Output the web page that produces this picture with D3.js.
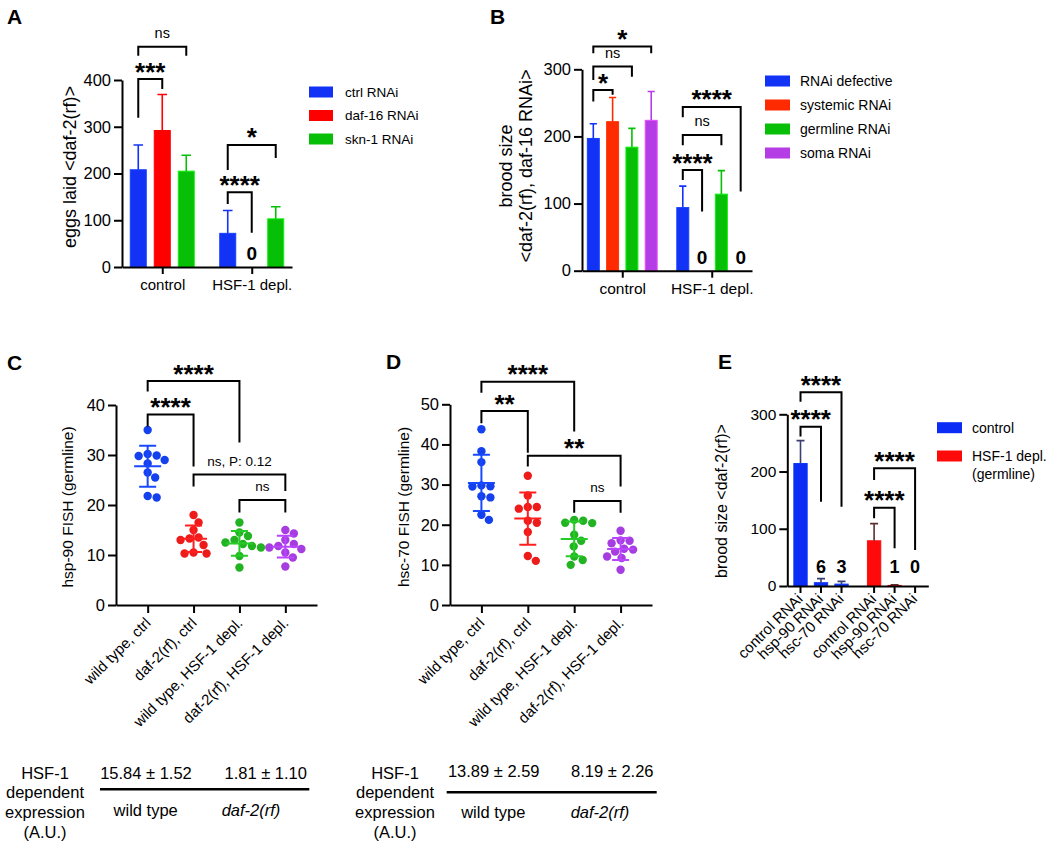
<!DOCTYPE html>
<html><head><meta charset="utf-8">
<script src="https://cdn.jsdelivr.net/npm/d3@7"></script>
<style>body{margin:0;background:#fff}</style>
</head><body><svg id="fig" width="1050" height="850"></svg>
<script>
// ================= DATA =================
// Panel A: eggs laid <daf-2(rf)>
const groupsA = ["control", "HSF-1 depl."];
const seriesA = ["ctrl RNAi", "daf-16 RNAi", "skn-1 RNAi"];
const meanA_ctrl = [208, 72];
const sdA_ctrl = [53, 49];
const meanA_daf16 = [292, 0];
const sdA_daf16 = [77, 0];
const meanA_skn1 = [205, 103];
const sdA_skn1 = [34, 26];
const ticksA = [0, 100, 200, 300, 400];
// [group, series1, series2, top, left leg end, right leg end, label] (values in axis units)
const sigA = [[0,0,1,402,319,381,"***"],[0,0,2,471,452,452,"ns"],[1,0,1,160,135,73,"****"],[1,0,2,261,207.5,233,"*"]];

// Panel B: brood size <daf-2(rf), daf-16 RNAi>
const groupsB = ["control", "HSF-1 depl."];
const seriesB = ["RNAi defective", "systemic RNAi", "germline RNAi", "soma RNAi"];
const meanB_defective = [197, 94];
const sdB_defective = [22, 32];
const meanB_systemic = [222, 0];
const sdB_systemic = [36, 0];
const meanB_germline = [184, 114];
const sdB_germline = [28, 35];
const meanB_soma = [224, 0];
const sdB_soma = [43, 0];
const ticksB = [0, 100, 200, 300];
const sigB = [[0,0,1,269,252,262,"*"],[0,0,2,304,284,289,"ns"],[0,0,3,334,324,324,"*"],[1,0,1,150,135,88,"****"],[1,0,2,202,187,187,"ns"],[1,0,3,244,228.5,118,"****"]];

// Panels C & D: FISH (germline)
const groupsCD = ["wild type, ctrl", "daf-2(rf), ctrl", "wild type, HSF-1 depl.", "daf-2(rf), HSF-1 depl."];
const c_wt_ctrl = [35.0, 30.2, 29.9, 29.8, 29.0, 28.3, 26.5, 25.5, 21.8, 21.5];
const c_daf2_ctrl = [18.0, 16.5, 15.0, 13.5, 13.3, 13.0, 12.0, 10.5, 10.3, 10.3];
const c_wt_hsf = [16.5, 14.5, 13.8, 13.0, 12.5, 12.2, 11.8, 11.5, 9.8, 7.5];
const c_daf2_hsf = [15.0, 14.3, 13.0, 12.2, 11.8, 11.5, 11.2, 10.5, 9.5, 7.7];
const ticksC = [0, 10, 20, 30, 40];
const sigC = [[0,2,44.8,42.7,32.5,"****"],[0,1,38.1,35.7,27.7,"****"],[1,3,26.1,23.7,22.8,"ns, P: 0.12"],[2,3,21,18.5,18.5,"ns"]];

const d_wt_ctrl = [43.8, 38.3, 35.6, 29.8, 29.6, 29.5, 27.1, 26.8, 22.5, 21.2];
const d_daf2_ctrl = [32.2, 27.3, 24.4, 24.4, 24.0, 21.0, 20.5, 18.2, 12.2, 11.0];
const d_wt_hsf = [21.2, 21.0, 20.5, 20.4, 17.5, 16.0, 14.6, 12.1, 11.2, 10.0];
const d_daf2_hsf = [18.5, 16.1, 16.0, 15.4, 14.0, 13.8, 13.3, 12.1, 11.7, 8.8];
const ticksD = [0, 10, 20, 30, 40, 50];
const sigD = [[0,2,55.6,52.9,43.2,"****"],[0,1,48.3,45.3,37.9,"**"],[1,3,37.2,34.5,29.5,"**"],[2,3,25.9,23,23,"ns"]];

// Panel E: brood size <daf-2(rf)>
const groupsE = ["control", "HSF-1 depl. (germline)"];
const legendE = [["control"], ["HSF-1 depl.", "(germline)"]];
const rnaiE = ["control RNAi", "hsp-90 RNAi", "hsc-70 RNAi"];
const meanE_control = [214, 5.8, 3.3];
const sdE_control = [40, 7, 4.7];
const meanE_hsf = [79, 1.0, 0];
const sdE_hsf = [30, 1.3, 0];
const ticksE = [0, 100, 200, 300];
const sigE = [[0,0,2,338.5,322,138.6,"****"],[0,0,1,278.4,261,147.3,"****"],[1,0,2,205.7,185.2,62.9,"****"],[1,0,1,136.8,118.3,65.9,"****"]];

// Tables under C and D
const tableRowLabel = ["HSF-1", "dependent", "expression", "(A.U.)"];
const tableCols = ["wild type", "daf-2(rf)"];
const tableC = ["15.84 ± 1.52", "1.81 ± 1.10"];
const tableD = ["13.89 ± 2.59", "8.19 ± 2.26"];

// ================= STYLE =================
const FONT = "'Liberation Sans', Arial, Helvetica, sans-serif";
const colorsA = ["#1232f5", "#ff0000", "#06bf06"];
const colorsB = ["#1232f5", "#ff2a00", "#06bf06", "#b53de6"];
const colorsCD = ["#1540ee", "#ee1b1b", "#22b322", "#a53de0"];
const colorsE = ["#0a2cf5", "#ff0a0a"];
const errColorsE = ["#3a3f70", "#5a3030"];

const svg = d3.select('#fig');
svg.append('rect').attr('width', 1050).attr('height', 850).attr('fill', '#fff');

function txt(x, y, s, fs, o = {}) {
  const t = svg.append('text').attr('x', x).attr('y', y).text(s)
    .style('font-family', FONT).style('font-size', fs + 'px').attr('fill', '#000');
  if (o.anchor) t.attr('text-anchor', o.anchor);
  if (o.bold) t.style('font-weight', 'bold');
  if (o.italic) t.style('font-style', 'italic');
  if (o.transform) t.attr('transform', o.transform);
  return t;
}
function styleAxis(sel, fs) {
  sel.select('.domain').attr('stroke', '#000').attr('stroke-width', 2);
  sel.selectAll('.tick line').attr('stroke', '#000').attr('stroke-width', 2);
  sel.selectAll('.tick text').attr('fill', '#000').style('font-family', FONT).style('font-size', fs + 'px');
}
function yTitle(lines, x, y, fs, gap) {
  lines.forEach((l, i) => {
    svg.append('text').attr('transform', `translate(${x + i * gap},${y}) rotate(-90)`)
      .attr('text-anchor', 'middle').attr('dy', '0.35em')
      .style('font-family', FONT).style('font-size', fs + 'px').attr('fill', '#000').text(l);
  });
}
function bracket(x1, x2, yT, yL, yR, label, fsNs) {
  svg.append('path').attr('d', `M${x1},${yL}V${yT}H${x2}V${yR}`)
    .attr('fill', 'none').attr('stroke', '#000').attr('stroke-width', 2);
  const cy = yT - 13;
  if (/^\*+$/.test(label)) {
    txt((x1 + x2) / 2, cy + 14.5, label, 26, {anchor: 'middle', bold: true});
  } else {
    const off = label.length > 2 ? 0.36 : 0.28;
    txt((x1 + x2) / 2, cy + off * fsNs, label, fsNs, {anchor: 'middle'});
  }
}
function panelLetter(s, x, y) { txt(x, y, s, 21, {bold: true}); }

function barPanel(o) {
  const x0 = d3.scalePoint().domain(o.groups).range(o.xRange).padding(o.outerPad);
  const x1 = d3.scaleBand().domain(o.inner).range([-o.half, o.half]).paddingInner(o.pin).paddingOuter(o.pout);
  const y = d3.scaleLinear().domain([0, o.yMax]).range(o.yRange);
  const cx = (gi, si) => x0(o.groups[gi]) + x1(o.inner[si]) + x1.bandwidth() / 2;
  o.groups.forEach((g, gi) => {
    o.inner.forEach((s, si) => {
      const v = o.value(gi, si), e = o.err(gi, si), col = o.color(gi, si);
      const c = cx(gi, si);
      if (v > 0) {
        svg.append('rect').attr('x', x0(g) + x1(s)).attr('y', y(v))
          .attr('width', x1.bandwidth()).attr('height', y(0) - y(v))
          .attr('fill', col).attr('stroke', d3.color(col).brighter(0.7)).attr('stroke-width', 1);
      }
      if (e > 0) {
        const cw = x1.bandwidth() * 0.3;
        svg.append('path').attr('d', `M${c},${y(v)}V${y(v + e)}M${c - cw},${y(v + e)}H${c + cw}`)
          .attr('stroke', o.errColor ? o.errColor(gi, si) : col).attr('stroke-width', 1.6).attr('fill', 'none');
      }
      if (v < 10) txt(c, y(0) - o.numOff, Math.round(v), o.numFs, {anchor: 'middle', bold: true});
    });
  });
  const ya = svg.append('g').attr('transform', `translate(${o.xRange[0]},0)`)
    .call(d3.axisLeft(y).tickValues(o.ticks).tickSize(8).tickPadding(3).tickSizeOuter(0));
  styleAxis(ya, o.tickFs);
  const xAxis = d3.axisBottom(x0).tickSize(7).tickPadding(5).tickSizeOuter(0);
  if (o.innerTicks) xAxis.tickValues([]);
  const xa = svg.append('g').attr('transform', `translate(0,${o.yRange[0]})`).call(xAxis);
  styleAxis(xa, o.catFs);
  if (o.innerTicks) {
    o.groups.forEach((g, gi) => o.inner.forEach((s, si) => {
      const c = cx(gi, si);
      svg.append('line').attr('x1', c).attr('x2', c).attr('y1', y(0)).attr('y2', y(0) + 7)
        .attr('stroke', '#000').attr('stroke-width', 2);
      txt(c + 3, y(0) + 14, s, o.catFs, {anchor: 'end', transform: `rotate(-45,${c + 3},${y(0) + 14})`});
    }));
  }
  o.sig.forEach(b => bracket(cx(b[0], b[1]), cx(b[0], b[2]), y(b[3]), y(b[4]), y(b[5]), b[6], o.nsFs));
}

function swarm(vals, y, r) {
  const pts = vals.map(v => ({v, py: y(v)})).sort((a, b) => a.py - b.py);
  const placed = [];
  const d = 2 * r + 0.6;
  pts.forEach(p => {
    let off = 0;
    outer: for (let s = 0; s < 60; s += 0.5) {
      for (const c of (s === 0 ? [0] : [s, -s])) {
        if (placed.every(q => Math.hypot(q.dx - c, q.py - p.py) >= d)) { off = c; break outer; }
      }
    }
    placed.push({v: p.v, py: p.py, dx: off});
  });
  return placed;
}

function scatterPanel(o) {
  const x = d3.scalePoint().domain(groupsCD).range(o.xRange).padding(o.pad);
  const y = d3.scaleLinear().domain([0, d3.max(o.ticks)]).range(o.yRange);
  const ya = svg.append('g').attr('transform', `translate(${o.xRange[0]},0)`)
    .call(d3.axisLeft(y).tickValues(o.ticks).tickSize(8).tickPadding(3).tickSizeOuter(0));
  styleAxis(ya, 16.5);
  const xa = svg.append('g').attr('transform', `translate(0,${o.yRange[0]})`)
    .call(d3.axisBottom(x).tickSize(8).tickFormat('').tickSizeOuter(0));
  styleAxis(xa, 15);
  groupsCD.forEach(g => {
    const ax = x(g) + 4, ay = o.yRange[0] + 19;
    txt(ax, ay, g, 15, {anchor: 'end', transform: `rotate(-45,${ax},${ay})`});
  });
  o.data.forEach((vals, i) => {
    const gx = x(groupsCD[i]);
    const col = colorsCD[i];
    swarm(vals, y, 4.2).forEach(p => {
      svg.append('circle').attr('cx', gx + p.dx).attr('cy', p.py).attr('r', 4.2).attr('fill', col);
    });
    const m = d3.mean(vals), sd = d3.deviation(vals);
    const lc = d3.color(col).brighter(0.35);
    svg.append('path')
      .attr('d', `M${gx - 13.5},${y(m)}H${gx + 13.5}M${gx},${y(m - sd)}V${y(m + sd)}M${gx - 8.5},${y(m + sd)}H${gx + 8.5}M${gx - 8.5},${y(m - sd)}H${gx + 8.5}`)
      .attr('stroke', lc).attr('stroke-width', 2).attr('fill', 'none');
  });
  o.sig.forEach(b => bracket(x(groupsCD[b[0]]), x(groupsCD[b[1]]), y(b[2]), y(b[3]), y(b[4]), b[5], 13.5));
}

function legend(labels, colors, x, ys, w, textX, fs) {
  labels.forEach((l, i) => {
    svg.append('rect').attr('x', x).attr('y', ys[i] - 5.5).attr('width', w).attr('height', 11).attr('fill', colors[i]);
    const lines = Array.isArray(l) ? l : [l];
    lines.forEach((ln, j) => txt(textX, ys[i] + 0.35 * fs + j * 18, ln, fs));
  });
}

function table(labelX, vals, valX, lineX, lineY, valY, colX, colY) {
  tableRowLabel.forEach((l, i) => txt(labelX, 778.5 + i * 19.7, l, 16.5, {anchor: 'middle'}));
  vals.forEach((v, i) => txt(valX[i], valY, v, 16.5, {anchor: 'middle'}));
  svg.append('line').attr('x1', lineX[0]).attr('x2', lineX[1]).attr('y1', lineY).attr('y2', lineY)
    .attr('stroke', '#000').attr('stroke-width', 2.5);
  tableCols.forEach((c, i) => txt(colX[i], colY, c, 16.5, {anchor: 'middle', italic: i === 1}));
}

// ================= PANEL A =================
panelLetter("A", 7, 24);
const meansA = [meanA_ctrl, meanA_daf16, meanA_skn1], sdsA = [sdA_ctrl, sdA_daf16, sdA_skn1];
barPanel({groups: groupsA, inner: seriesA, xRange: [122, 292], outerPad: 0.45, half: 36, pin: 1/3, pout: 1/6,
  yMax: 400, yRange: [267, 80], ticks: ticksA, tickFs: 16.5, catFs: 15, numFs: 19, numOff: 7, nsFs: 14.5,
  value: (g, s) => meansA[s][g], err: (g, s) => sdsA[s][g], color: (g, s) => colorsA[s], sig: sigA});
yTitle(["eggs laid <daf-2(rf)>"], 70, 167, 18, 0);
legend(seriesA, colorsA, 309, [92, 115.5, 139], 24, 345, 13.5);

// ================= PANEL B =================
panelLetter("B", 490, 24);
const meansB = [meanB_defective, meanB_systemic, meanB_germline, meanB_soma];
const sdsB = [sdB_defective, sdB_systemic, sdB_germline, sdB_soma];
barPanel({groups: groupsB, inner: seriesB, xRange: [582, 752], outerPad: 0.45, half: 38.6, pin: 0.38, pout: 0.19,
  yMax: 300, yRange: [270.7, 69.3], ticks: ticksB, tickFs: 16.5, catFs: 15.5, numFs: 19, numOff: 7, nsFs: 14.5,
  value: (g, s) => meansB[s][g], err: (g, s) => sdsB[s][g], color: (g, s) => colorsB[s], sig: sigB});
yTitle(["brood size", "<daf-2(rf), daf-16 RNAi>"], 506, 166, 18, 19.5);
legend(seriesB, colorsB, 765, [81, 105, 129, 153], 25, 800, 14);

// ================= PANEL C =================
panelLetter("C", 7, 370);
scatterPanel({xRange: [116, 317], pad: 0.69, yRange: [605, 405], ticks: ticksC,
  data: [c_wt_ctrl, c_daf2_ctrl, c_wt_hsf, c_daf2_hsf], sig: sigC});
yTitle(["hsp-90 FISH (germline)"], 67.5, 507, 15.5, 0);

// ================= PANEL D =================
panelLetter("D", 386, 369);
scatterPanel({xRange: [450, 652], pad: 0.677, yRange: [605, 404.3], ticks: ticksD,
  data: [d_wt_ctrl, d_daf2_ctrl, d_wt_hsf, d_daf2_hsf], sig: sigD});
yTitle(["hsc-70 FISH (germline)"], 404, 507, 15.5, 0);

// ================= PANEL E =================
panelLetter("E", 718, 369);
const meansE = [meanE_control, meanE_hsf], sdsE = [sdE_control, sdE_hsf];
barPanel({groups: groupsE, inner: rnaiE, xRange: [787.3, 928.3], outerPad: 0.458, half: 30.75, pin: 0.35, pout: 0.175,
  yMax: 300, yRange: [586, 414.3], ticks: ticksE, tickFs: 15.5, catFs: 15, numFs: 18, numOff: 13, nsFs: 14,
  innerTicks: true,
  value: (g, s) => meansE[g][s], err: (g, s) => sdsE[g][s], color: (g, s) => colorsE[g],
  errColor: (g, s) => errColorsE[g], sig: sigE});
yTitle(["brood size <daf-2(rf)>"], 721.5, 501, 16, 0);
legend(legendE, colorsE, 937, [427.7, 456], 25, 972, 14);

// ================= TABLES =================
table(45, tableC, [146, 265.7], [100, 309.3], 789.3, 778.5, [145.7, 251], 816);
table(395, tableD, [493.7, 612.3], [446.7, 656.7], 792.3, 776.5, [493.3, 600], 818);
</script></body></html>
